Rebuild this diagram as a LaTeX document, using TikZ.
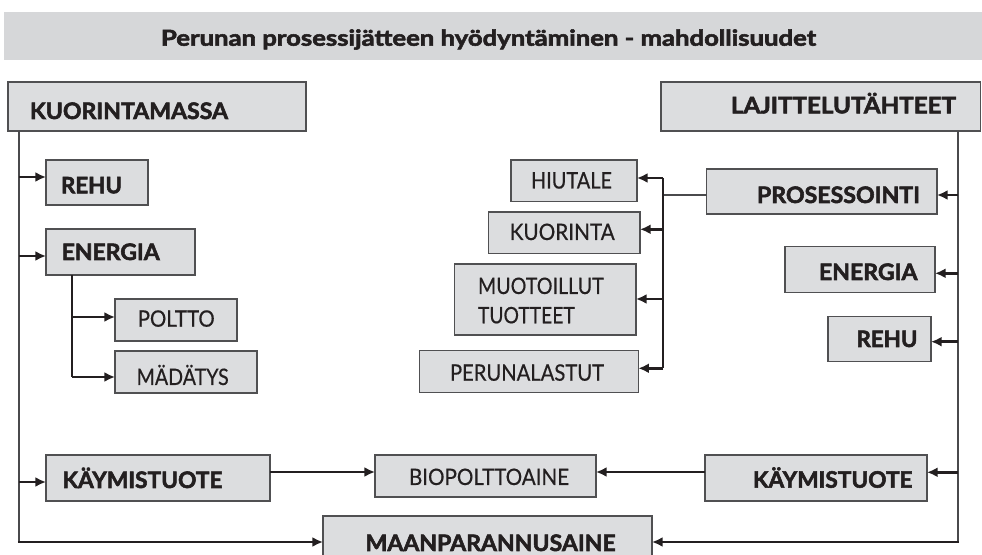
\documentclass[tikz,border=0pt]{standalone}
\usepackage{fontspec}
\setmainfont{Lato}
\newfontfamily\heavyfam{Lato}[FakeBold=2.4]
\newfontfamily\regfam{Lato}[FakeBold=0.5]
\usepackage{graphicx}
\usetikzlibrary{arrows.meta,fit}
\newdimen\pxu \pxu=0.75pt
\newcommand{\fitw}[2]{\resizebox{#1\pxu}{\height}{#2}}
\definecolor{boxfill}{HTML}{DCDDDF}
\definecolor{barfill}{HTML}{D6D7D9}
\definecolor{boxline}{HTML}{505052}
\definecolor{lineg}{HTML}{4A4A4C}
\definecolor{linek}{HTML}{231F20}
\definecolor{txt}{HTML}{231F20}
\tikzset{
  box/.style={draw=boxline, fill=boxfill, line width=0.9pt, inner sep=0pt, outer sep=0pt},
  bar/.style={fill=barfill, draw=none, inner sep=0pt, outer sep=0pt},
  trunk/.style={draw=lineg, line width=1pt},
  branch/.style={draw=linek, line width=1.2pt},
  arr/.style={draw=linek, line width=1.9pt, -{Latex[length=8pt,width=7.5pt]}},
  bl/.style={inner sep=0pt, outer sep=0pt, text=txt, font=\heavyfam\fontsize{17pt}{20pt}\selectfont\bfseries},
  rl/.style={inner sep=0pt, outer sep=0pt, text=txt, font=\regfam\fontsize{17pt}{20pt}\selectfont},
  tl/.style={inner sep=0pt, outer sep=0pt, text=txt, font=\heavyfam\fontsize{16.5pt}{19pt}\selectfont\bfseries}
}
\begin{document}
\begin{tikzpicture}[x=0.75pt,y=-0.75pt]
\useasboundingbox (0,0) rectangle (982,555);
\clip (0,0) rectangle (982,555);
% title
\node[bar, fit={(4,12) (990,60)}] (title) {};
\node[tl, anchor=base] (ttitle) at (488.5,45.7) {\fitw{655}{Perunan prosessijätteen hyödyntäminen - mahdollisuudet}};
% boxes
\node[box, fit={(8,82) (306,131)}] (kuor) {};
\node[box, fit={(661,82) (980.5,131)}] (laj) {};
\node[box, fit={(46,160) (148,205)}] (rehuL) {};
\node[box, fit={(46,229) (195,275)}] (enerL) {};
\node[box, fit={(115,299) (237,341)}] (poltto) {};
\node[box, fit={(115,351) (257,393)}] (madatys) {};
\node[box, fit={(511,160) (637,201.7)}] (hiutale) {};
\node[box, fit={(488.5,212) (640,253.3)}] (kuorinta) {};
\node[box, fit={(454.3,264) (636,335)}] (muoto) {};
\node[box, fit={(419.3,350.7) (638.3,392.7)}] (perun) {};
\node[box, fit={(706.5,169) (937,214)}] (pros) {};
\node[box, fit={(785,246.7) (935,292.7)}] (enerR) {};
\node[box, fit={(828,316.7) (931,361.7)}] (rehuR) {};
\node[box, fit={(46,455) (270,501)}] (kaymL) {};
\node[box, fit={(375,455) (596,497)}] (bio) {};
\node[box, fit={(705,455) (927,501)}] (kaymR) {};
\node[box, fit={(323,516) (652,562)}] (maan) {};
% texts
\node[bl, anchor=base west] (tkuor) at (30,119) {\fitw{198}{KUORINTAMASSA}};
\node[bl, anchor=base east] (tlaj) at (956,113.3) {\fitw{225}{LAJITTELUTÄHTEET}};
\node[bl, anchor=base west] (trehuL) at (61,193.3) {\fitw{61}{REHU}};
\node[bl, anchor=base west] (tenerL) at (61.7,260) {\fitw{98}{ENERGIA}};
\node[rl, anchor=base west] (tpoltto) at (137.7,326.7) {\fitw{77}{POLTTO}};
\node[rl, anchor=base west] (tmadatys) at (136.7,385) {\fitw{92}{MÄDÄTYS}};
\node[rl, anchor=base west] (thiutale) at (531,188.5) {\fitw{81}{HIUTALE}};
\node[rl, anchor=base west] (tkuorinta) at (509.7,240) {\fitw{105}{KUORINTA}};
\node[rl, anchor=base west] (tmuoto1) at (478,294) {\fitw{125.7}{MUOTOILLUT}};
\node[rl, anchor=base west] (tmuoto2) at (478,323.3) {\fitw{96.7}{TUOTTEET}};
\node[rl, anchor=base west] (tperun) at (450,380.7) {\fitw{154}{PERUNALASTUT}};
\node[bl, anchor=base east] (tpros) at (920,203) {\fitw{163}{PROSESSOINTI}};
\node[bl, anchor=base east] (tenerR) at (917.5,280) {\fitw{98.5}{ENERGIA}};
\node[bl, anchor=base east] (trehuR) at (917.5,347) {\fitw{61}{REHU}};
\node[bl, anchor=base west] (tkaymL) at (62.5,488) {\fitw{160}{KÄYMISTUOTE}};
\node[rl, anchor=base west] (tbio) at (409,485) {\fitw{160}{BIOPOLTTOAINE}};
\node[bl, anchor=base east] (tkaymR) at (912.5,487.7) {\fitw{159.5}{KÄYMISTUOTE}};
\node[bl, anchor=base] (tmaan) at (490.6,551) {\fitw{250}{MAANPARANNUSAINE}};
% left trunk
\coordinate (L0) at (19,131);
\coordinate (L1) at (19,177);
\coordinate (L2) at (19,256);
\coordinate (L3) at (19,482);
\coordinate (L4) at (19,542);
\draw[trunk] (L0) -- (L4);
\draw[arr] (L1) -- (L1 -| rehuL.west);
\draw[arr] (L2) -- (L2 -| enerL.west);
\draw[arr] (L3) -- (L3 -| kaymL.west);
\draw[arr, shorten <=-0.8pt] (L4) -- (L4 -| maan.west);
% energia branch
\coordinate (E0) at (72,275);
\coordinate (E1) at (72,317);
\coordinate (E2) at (72,377);
\draw[branch] (E0) -- (E2);
\draw[arr] (E1) -- (E1 -| poltto.west);
\draw[arr] (E2) -- (E2 -| madatys.west);
% right trunk
\coordinate (R0) at (958,131);
\coordinate (R1) at (958,195);
\coordinate (R2) at (958,273.3);
\coordinate (R3) at (958,341.7);
\coordinate (R4) at (958,472.3);
\coordinate (R5) at (958,542);
\draw[trunk] (R0) -- (R5);
\draw[arr] (R1) -- (R1 -| pros.east);
\draw[arr] (R2) -- (R2 -| enerR.east);
\draw[arr] (R3) -- (R3 -| rehuR.east);
\draw[arr] (R4) -- (R4 -| kaymR.east);
\draw[arr, shorten <=-0.8pt] (R5) -- (R5 -| maan.east);
% prosessointi branch
\coordinate (P0) at (663,195);
\coordinate (P1) at (663,178);
\coordinate (P2) at (663,229.3);
\coordinate (P3) at (663,299);
\coordinate (P4) at (663,368.3);
\draw[trunk] (pros.west |- P0) -- (P0);
\draw[branch] (P1) -- (P4);
\draw[arr] (P1) -- (P1 -| hiutale.east);
\draw[arr] (P2) -- (P2 -| kuorinta.east);
\draw[arr] (P3) -- (P3 -| muoto.east);
\draw[arr] (P4) -- (P4 -| perun.east);
% biopolttoaine
\draw[arr] (kaymL.east |- 0,472) -- (bio.west |- 0,472);
\draw[arr] (kaymR.west |- 0,472) -- (bio.east |- 0,472);
\end{tikzpicture}
\end{document}
